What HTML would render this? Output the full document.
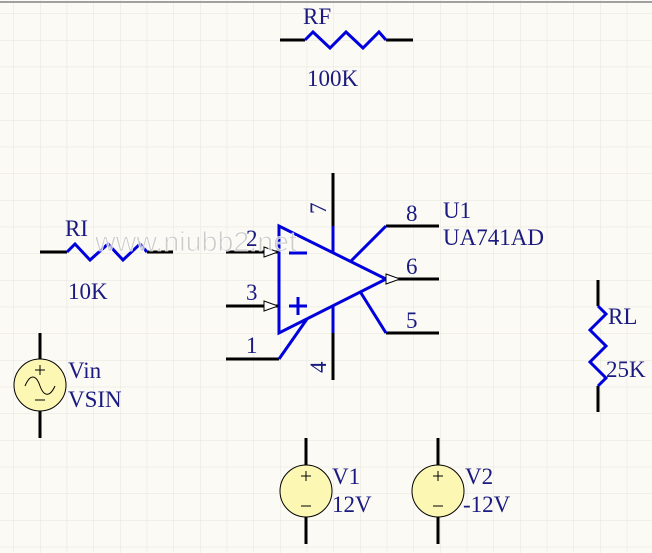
<!DOCTYPE html>
<html><head><meta charset="utf-8"><style>
html,body{margin:0;padding:0;background:#fbfaf4;}
svg{display:block;}
text{font-family:"Liberation Serif",serif;font-size:23px;fill:#1a1a80;}
</style></head><body>
<svg width="652" height="553" viewBox="0 0 652 553" xmlns="http://www.w3.org/2000/svg">
<defs>
<pattern id="g" x="13.33" y="13.33" width="26.67" height="26.67" patternUnits="userSpaceOnUse">
<path d="M0 0H26.67M0 0V26.67" stroke="#e6e4dc" stroke-width="1" fill="none"/>
</pattern>
</defs>
<rect width="652" height="553" fill="url(#g)"/>
<line x1="0" y1="2" x2="652" y2="2" stroke="#a0a0a0" stroke-width="2"/>

<g stroke-width="3" fill="none">
<line x1="280" y1="40" x2="305" y2="40" stroke="#000"/>
<line x1="386" y1="40" x2="413" y2="40" stroke="#000"/>
<polyline points="305,40 313,32 330,48 346,32 363,48 379,32 386,40" stroke="#0000dd"/>
<line x1="40" y1="252" x2="67" y2="252" stroke="#000"/>
<line x1="147" y1="252" x2="173" y2="252" stroke="#000"/>
<polyline points="67,252 75,244 90,260 108,244 123,260 140,244 147,252" stroke="#0000dd"/>
<line x1="598" y1="280" x2="598" y2="306" stroke="#000"/>
<line x1="598" y1="386" x2="598" y2="412" stroke="#000"/>
<polyline points="598,306 606,314 590,330 606,346 590,362 606,378 598,386" stroke="#0000dd"/>

<line x1="333" y1="173" x2="333" y2="226" stroke="#000"/>
<line x1="333" y1="226" x2="333" y2="253" stroke="#0000dd"/>
<line x1="333" y1="306" x2="333" y2="333" stroke="#0000dd"/>
<line x1="333" y1="333" x2="333" y2="380" stroke="#000"/>
<line x1="386" y1="226" x2="439" y2="226" stroke="#000"/>
<line x1="350" y1="262" x2="386" y2="226" stroke="#0000dd"/>
<line x1="386" y1="279" x2="439" y2="279" stroke="#000"/>
<line x1="386" y1="333" x2="439" y2="333" stroke="#000"/>
<line x1="361" y1="293" x2="386" y2="333" stroke="#0000dd"/>
<line x1="226" y1="359" x2="279" y2="359" stroke="#000"/>
<line x1="279" y1="359" x2="307" y2="319" stroke="#0000dd"/>
<line x1="226" y1="252" x2="279" y2="252" stroke="#000"/>
<line x1="226" y1="306" x2="279" y2="306" stroke="#000"/>
<polygon points="279,226 279,333 386,279" stroke="#0000dd" stroke-linejoin="miter"/>
<line x1="289" y1="253" x2="307" y2="253" stroke="#0000dd"/>
<line x1="289" y1="306" x2="307" y2="306" stroke="#0000dd"/>
<line x1="298" y1="297" x2="298" y2="315" stroke="#0000dd"/>
</g>
<g fill="#fff" stroke="#000" stroke-width="1">
<polygon points="264,247 278,252 264,257"/>
<polygon points="264,301 278,306 264,311"/>
<polygon points="386,274 400,279 386,284"/>
</g>

<g stroke-width="3" stroke="#000">
<line x1="40" y1="333" x2="40" y2="438"/>
<line x1="306" y1="438" x2="306" y2="544"/>
<line x1="438" y1="438" x2="438" y2="544"/>
</g>
<g fill="#fdf7b4" stroke="#000" stroke-width="1">
<circle cx="40" cy="385" r="26"/>
<circle cx="306" cy="491" r="26"/>
<circle cx="438" cy="491" r="26"/>
</g>
<g stroke="#000" stroke-width="1" fill="none">
<path d="M35 370H45M40 365V375M35 400H45"/>
<path d="M25 386 C30 374 36 374 40 386 C44 397 50 397 55 386"/>
<path d="M301 476H311M306 471V481M301 506H311"/>
<path d="M433 476H443M438 471V481M433 506H443"/>
</g>

<text x="303" y="24">RF</text>
<text x="307" y="86">100K</text>
<text x="65" y="236">RI</text>
<text x="68" y="299">10K</text>
<text x="608" y="324">RL</text>
<text x="606" y="377">25K</text>
<text x="68" y="378">Vin</text>
<text x="68" y="407">VSIN</text>
<text x="332" y="484">V1</text>
<text x="332" y="512">12V</text>
<text x="465" y="484">V2</text>
<text x="463" y="512">-12V</text>
<text x="443" y="218">U1</text>
<text x="443" y="245">UA741AD</text>
<text x="406" y="221">8</text>
<text x="406" y="274">6</text>
<text x="406" y="328">5</text>
<text x="246" y="246">2</text>
<text x="246" y="300">3</text>
<text x="246" y="353">1</text>
<text transform="translate(326,205) rotate(-90)" x="-9" y="0">7</text>
<text transform="translate(326,364) rotate(-90)" x="-9" y="0">4</text>
<text x="95" y="251" style="fill:#c4c4c4;stroke:#ffffff;stroke-width:0.8;font-family:'Liberation Sans',sans-serif;font-size:28px;opacity:0.85" textLength="202" lengthAdjust="spacingAndGlyphs">www.niubb2.net</text>
</svg>
</body></html>
